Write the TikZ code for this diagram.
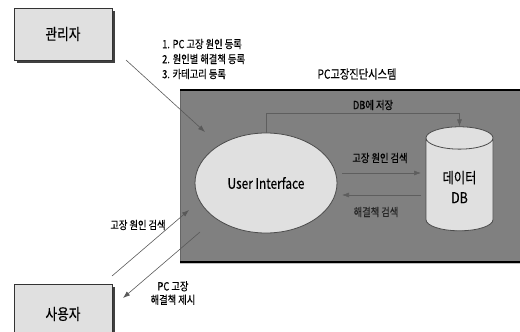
\documentclass[tikz,border=0pt]{standalone}
\usepackage{fontspec}
\setmainfont[FakeStretch=0.82,FakeBold=0.35]{Noto Sans CJK KR}
\usetikzlibrary{shapes.geometric,arrows.meta,shadows}

\definecolor{boxgray}{HTML}{E0E0E0}
\definecolor{sysgray}{HTML}{808080}
\definecolor{linegray}{HTML}{5E5E5E}

\tikzset{
  actor/.style={draw=black!80,fill=boxgray,line width=0.8pt,minimum width=98pt,minimum height=52pt,
    drop shadow={shadow xshift=3pt,shadow yshift=-3pt,fill=black!75,opacity=1},font=\fontsize{15.5}{15.5}\selectfont},
  lbl/.style={font=\fontsize{11.3}{11.3}\selectfont,inner sep=0pt},
  flow/.style={draw=linegray,line width=0.6pt,-{Latex[length=7pt,width=5pt]}},
  inflow/.style={draw=black!65,line width=0.6pt,-{Latex[length=7pt,width=5pt]}}
}

\begin{document}
\begin{tikzpicture}[x=1pt,y=-1pt]
\useasboundingbox (0,0) rectangle (520,332);

% system area
\fill[sysgray] (180,90) rectangle (524,262);
\draw[black!60,line width=0.8pt] (180,262) -- (180,90);
\draw[black,line width=1.2pt] (180,90) -- (524,90);
\draw[black,line width=1.2pt] (180,262) -- (524,262);
\draw[black!25,line width=0.8pt] (180,263.5) -- (524,263.5);
\node[font=\fontsize{12.5}{12.5}\selectfont] (sys) at (357,74) {PC고장진단시스템};

% actors
\node[actor] (admin) at (63,34) {관리자};
\node[actor,minimum height=60pt] (user) at (63,314) {사용자};

% inside the system
\node[ellipse,draw=black!70,fill=boxgray,line width=0.8pt,minimum width=142pt,minimum height=100pt,
  font=\fontsize{14.5}{14.5}\selectfont] (ui) at (266,183) {User Interface};
\node[cylinder,shape border rotate=90,aspect=0.55,draw=black!70,fill=boxgray,line width=0.8pt,
  minimum width=67pt,minimum height=104pt,align=center,font=\fontsize{15}{20}\selectfont] (db) at (459.5,187) {데이터\\DB};

\draw[flow] (ui.north) -- (266,113) -| (db.top);
\node[lbl] (save) at (373,105) {DB에 저장};

\coordinate (s1) at (342,173);
\coordinate (s2) at (421,173);
\draw[flow] (s1) -- (s2);
\node[lbl] (search) at (380,158) {고장 원인 검색};

\coordinate (r1) at (421,195);
\coordinate (r2) at (342,195);
\draw[flow] (r1) -- (r2);
\node[lbl,text=black!85] (solve) at (376,212) {해결책 검색};

% admin input
\coordinate (a1) at (126,60);
\coordinate (a2) at (205,132);
\draw[inflow] (a1) -- (a2);
\node[lbl,anchor=west] (reg1) at (162,44) {1. PC 고장 원인 등록};
\node[lbl,anchor=west] (reg2) at (162,59) {2. 원인별 해결책 등록};
\node[lbl,anchor=west] (reg3) at (162,74) {3. 카테고리 등록};

% user input / output
\coordinate (u1) at (112,276);
\coordinate (u2) at (189,210);
\draw[inflow] (u1) -- (u2);
\node[lbl] (ask) at (138,225) {고장 원인 검색};

\coordinate (o1) at (200,232);
\coordinate (o2) at (123,298);
\draw[inflow] (o1) -- (o2);
\node[lbl,align=center,font=\fontsize{11.3}{13.5}\selectfont] (answer) at (173,293) {PC 고장\\해결책 제시};

\end{tikzpicture}
\end{document}
